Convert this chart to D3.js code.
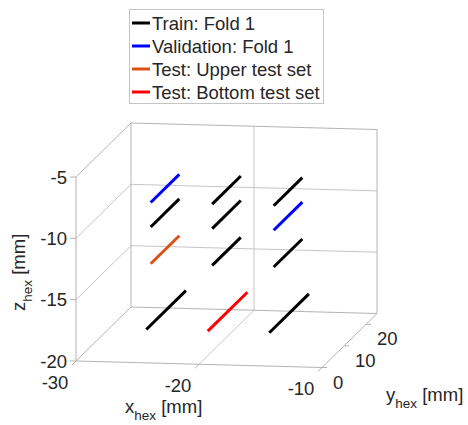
<!DOCTYPE html>
<html>
<head>
<meta charset="utf-8">
<script src="https://cdn.jsdelivr.net/npm/d3@7"></script>
<style>
  html, body { margin: 0; padding: 0; background: #fff; }
  svg { display: block; font-family: "Liberation Sans", Arial, Helvetica, sans-serif; }
</style>
</head>
<body>
<svg id="chart" width="468" height="425"></svg>
<script>
// ---------- data ----------
const seriesNames = ["Train: Fold 1", "Validation: Fold 1", "Test: Upper test set", "Test: Bottom test set"];
const seriesColors = ["#000000", "#0000ff", "#d95319", "#ff0000"];

// one line segment per entry, running along y
const segX      = [-25, -25, -25, -25, -20, -20, -20, -20, -15, -15, -15, -15];
const segZ      = [-8, -10, -13, -18, -8, -10, -13, -18, -8, -10, -13, -18];
const segYStart = [6, 6, 6, 4, 6, 6, 6, 4, 6, 6, 6, 4];
const segYEnd   = [19, 19, 19, 22, 19, 19, 19, 22, 19, 19, 19, 22];
const segSeries = [1, 0, 2, 0, 0, 0, 0, 3, 0, 1, 0, 0];

const xDomain = [-30, -10];
const yDomain = [0, 25];
const zDomain = [-20, -5];
const xTicks = [-30, -20, -10];
const yTicks = [0, 10, 20];
const zTicks = [-20, -15, -10, -5];
const xGrid = [-20];
const zGrid = [-15, -10];

// ---------- projection (orthographic view) ----------
const sx = d3.scaleLinear().domain(xDomain).range([0, 1]);
const sy = d3.scaleLinear().domain(yDomain).range([0, 1]);
const sz = d3.scaleLinear().domain(zDomain).range([0, 1]);
const origin = [76, 361];
const EX = [246, 6.5], EY = [55, -54], EZ = [0, -184];
function proj(x, y, z) {
  const u = sx(x), v = sy(y), w = sz(z);
  return [origin[0] + u * EX[0] + v * EY[0] + w * EZ[0],
          origin[1] + u * EX[1] + v * EY[1] + w * EZ[1]];
}

const svg = d3.select("#chart");
const gridColor = "#c6c6c6", axisColor = "#b4b4b4", textColor = "#262626";
const line = d3.line();

const [x0, x1] = xDomain, [y0, y1] = yDomain, [z0, z1] = zDomain;
const gAxes = svg.append("g").attr("fill", "none").attr("stroke-width", 1);

// grid lines
// back wall (y = ymax): x grid (vertical), z grid (horizontal)
xGrid.forEach(x => {
  gAxes.append("path").attr("stroke", gridColor).attr("d", line([proj(x, y1, z0), proj(x, y1, z1)]));
  gAxes.append("path").attr("stroke", gridColor).attr("d", line([proj(x, y0, z0), proj(x, y1, z0)]));
});
zGrid.forEach(z => {
  gAxes.append("path").attr("stroke", gridColor).attr("d", line([proj(x0, y1, z), proj(x1, y1, z)]));
  gAxes.append("path").attr("stroke", gridColor).attr("d", line([proj(x0, y0, z), proj(x0, y1, z)]));
});

// box outline (back planes)
const edges = [
  [[x0, y0, z0], [x1, y0, z0]],
  [[x1, y0, z0], [x1, y1, z0]],
  [[x0, y0, z0], [x0, y1, z0]],
  [[x0, y1, z0], [x1, y1, z0]],
  [[x0, y0, z0], [x0, y0, z1]],
  [[x0, y1, z0], [x0, y1, z1]],
  [[x1, y1, z0], [x1, y1, z1]],
  [[x0, y0, z1], [x0, y1, z1]],
  [[x0, y1, z1], [x1, y1, z1]]
];
edges.forEach(e => {
  gAxes.append("path").attr("stroke", axisColor).attr("d", line([proj(...e[0]), proj(...e[1])]));
});

// ticks + labels
const fs = 18.5;
const gText = svg.append("g").attr("fill", textColor).style("font-size", fs + "px");
zTicks.forEach(z => {
  const p = proj(x0, y0, z);
  gAxes.append("path").attr("stroke", axisColor).attr("d", line([p, [p[0] - 6, p[1]]]));
  gText.append("text").attr("x", p[0] - 9).attr("y", p[1] + 6.5).attr("text-anchor", "end").text(z);
});
xTicks.forEach(x => {
  const p = proj(x, y0, z0);
  gAxes.append("path").attr("stroke", axisColor).attr("d", line([p, [p[0] - 4.2, p[1] + 4.2]]));
  gText.append("text").attr("x", p[0] - 21).attr("y", p[1] + 21 + 6.5).attr("text-anchor", "middle").text(x);
});
yTicks.forEach(y => {
  const p = proj(x1, y, z0);
  gAxes.append("path").attr("stroke", axisColor).attr("d", line([p, [p[0] + 5, p[1]]]));
  gText.append("text").attr("x", p[0] + 11).attr("y", p[1] + 14.5 + 6.5).attr("text-anchor", "start").text(y);
});

// axis titles
function axisTitle(g, sym) {
  g.append("tspan").text(sym);
  g.append("tspan").attr("dy", 7).style("font-size", "13.5px").text("hex");
  g.append("tspan").attr("dy", -7).text(" [mm]");
}
axisTitle(gText.append("text").attr("x", 125).attr("y", 413), "x");
axisTitle(gText.append("text").attr("x", 386).attr("y", 401), "y");
axisTitle(gText.append("text").attr("transform", "translate(25,311) rotate(-90)"), "z");

// data segments
const segs = segX.map((x, i) => ({x, z: segZ[i], ya: segYStart[i], yb: segYEnd[i], s: segSeries[i]}));
svg.append("g").selectAll("path").data(segs).join("path")
  .attr("fill", "none")
  .attr("stroke", d => seriesColors[d.s])
  .attr("stroke-width", 3)
  .attr("d", d => line([proj(d.x, d.ya, d.z), proj(d.x, d.yb, d.z)]));

// legend
const leg = svg.append("g");
leg.append("rect").attr("x", 129.5).attr("y", 9.5).attr("width", 194).attr("height", 94)
  .attr("fill", "#fff").attr("stroke", "#c4c4c4");
seriesNames.forEach((name, i) => {
  const cy = 23 + i * 23;
  leg.append("line").attr("x1", 132).attr("x2", 150).attr("y1", cy).attr("y2", cy)
    .attr("stroke", seriesColors[i]).attr("stroke-width", 3);
  leg.append("text").attr("x", 152).attr("y", cy + 6.5).attr("fill", textColor)
    .style("font-size", fs + "px").text(name);
});
</script>
</body>
</html>
